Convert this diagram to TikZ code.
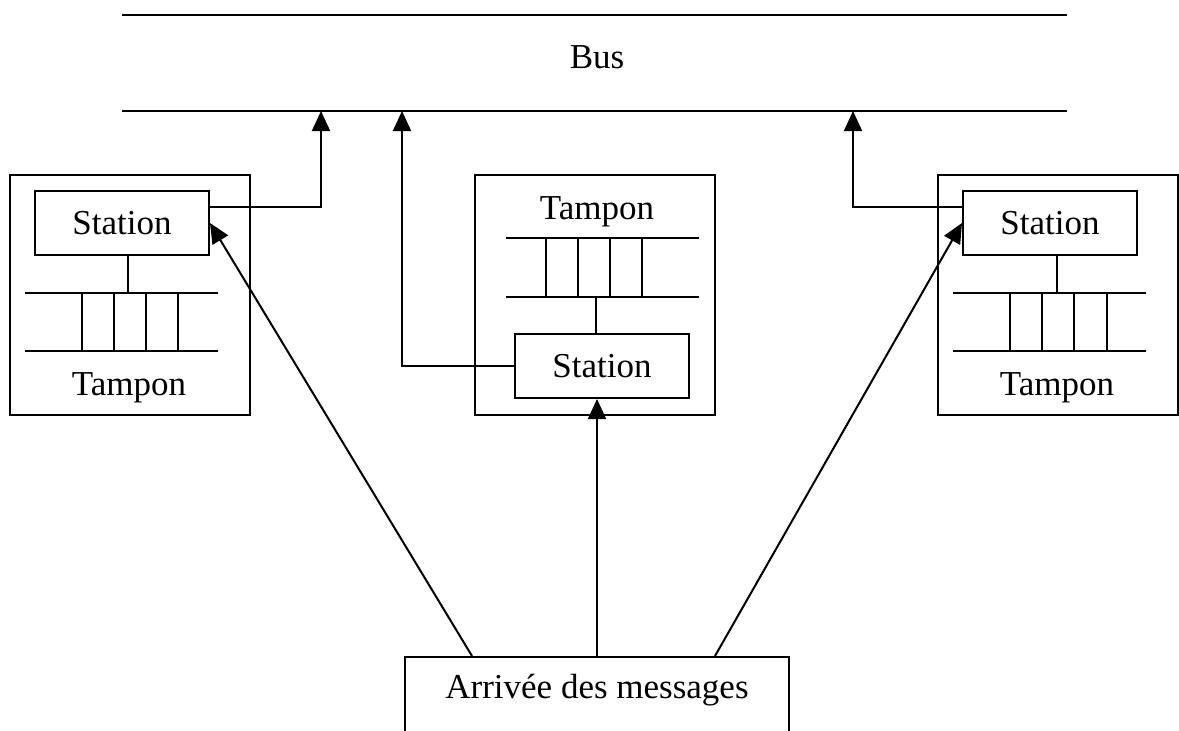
\documentclass[tikz,border=0pt]{standalone}
\usepackage{fontspec}
\setmainfont{Liberation Serif}
\usetikzlibrary{arrows.meta,calc}
\begin{document}
\begin{tikzpicture}[x=1pt,y=-1pt,line width=2pt,>={Triangle[length=20pt,width=18pt]},font=\fontsize{35}{40}\selectfont,
	station/.style={draw,minimum width=174pt,minimum height=64pt,inner sep=0pt},
	frame/.style={draw,minimum width=240pt,minimum height=240pt,inner sep=0pt}]
			\clip (0,0) rectangle (1179,731);
			\draw (122,15)--(1067,15);
			\draw (122,111)--(1067,111);
			\node (bus) at (597,57) {Bus};
			\coordinate (upL) at (321,111);
			\coordinate (upM) at (402,111);
			\coordinate (upR) at (853,111);
			\node[frame] (boxL) at (130,295) {};
			\node[frame] (boxM) at (595,295) {};
			\node[frame] (boxR) at (1058,295) {};
			\node[station] (stL) at (122,223) {Station};
			\node[station] (stM) at (602,366) {Station};
			\node[station] (stR) at (1050,223) {Station};
			\node (tpL) at (129,388) {Tampon};
			\node (tpM) at (597,212) {Tampon};
			\node (tpR) at (1057,388) {Tampon};
			\draw (25,293)--(218,293) (25,351)--(218,351);
			\draw (506,238)--(699,238) (506,297)--(699,297);
			\draw (953,293)--(1146,293) (953,351)--(1146,351);
			\foreach \x in {82,114,146,178} \draw (\x,293)--(\x,351);
			\foreach \x in {546,578,610,642} \draw (\x,238)--(\x,297);
			\foreach \x in {1010,1042,1074,1107} \draw (\x,293)--(\x,351);
			\coordinate (qL) at (128,293);
			\coordinate (qM) at (596,297);
			\coordinate (qR) at (1057,293);
			\draw (qL)--(qL|-stL.south);
			\draw (qM)--(qM|-stM.north);
			\draw (qR)--(qR|-stR.south);
			\draw[->] ([yshift=16pt]stL.east)-|(upL);
			\draw[->] (stM.west)-|(upM);
			\draw[->] ([yshift=16pt]stR.west)-|(upR);
			\node[draw,minimum width=384pt,minimum height=100pt,anchor=north] (arr) at (597,656) {};
			\node (arrtxt) at ([yshift=-34pt]arr.north) {Arrivée des messages};
			\coordinate (arrL) at ([xshift=-125pt]arr.north);
			\coordinate (arrR) at ([xshift=118pt]arr.north);
			\draw[->] (arrL)--(stL.east);
			\draw[->] (arr.north)--(arr.north|-stM.south);
			\draw[->] (arrR)--(stR.west);
		\end{tikzpicture}
\end{document}
